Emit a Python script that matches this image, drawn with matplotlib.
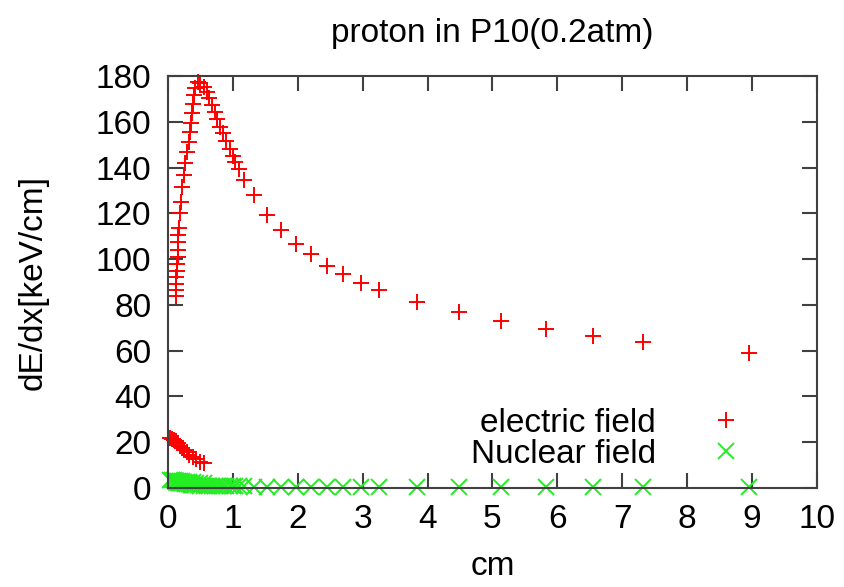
import matplotlib
matplotlib.use("Agg")
import matplotlib.pyplot as plt

plt.rcParams['font.family'] = ['Liberation Sans', 'DejaVu Sans']

# range (cm) of the tabulated points
range_cm = [
    0.03, 0.06, 0.09, 0.12, 0.15, 0.18, 0.21, 0.25, 0.29, 0.33, 0.38, 0.43, 0.49, 0.55,
    0.12, 0.12, 0.13, 0.13, 0.14, 0.14, 0.15, 0.15, 0.16, 0.16, 0.17, 0.19, 0.20, 0.22,
    0.24, 0.26, 0.29, 0.32, 0.34, 0.36, 0.37, 0.39, 0.40, 0.42, 0.46,
    0.50, 0.55, 0.60, 0.64, 0.68, 0.72, 0.76, 0.80, 0.85, 0.90, 0.95, 1.00, 1.04, 1.09,
    1.17, 1.32, 1.53, 1.74, 1.97, 2.20, 2.45, 2.70, 2.97, 3.25, 3.84, 4.48, 5.13, 5.83,
    6.55, 7.32, 8.96,
]

# electronic stopping (keV/cm)
electric = [
    22.0, 21.5, 21.0, 20.3, 19.5, 18.5, 17.5, 16.5, 15.5, 14.5, 13.5, 12.5, 11.5, 10.8,
    84.0, 86.5, 89.0, 92.0, 95.0, 98.0, 101.0, 104.0, 107.5, 110.6, 113.6, 120.0, 125.0, 131.6,
    137.0, 142.0, 147.0, 151.4, 155.8, 159.6, 164.0, 168.0, 172.0, 175.0, 177.5,
    177.0, 175.5, 173.0, 170.5, 167.5, 164.5, 161.5, 158.0, 155.0, 151.5, 148.0, 145.0, 142.5, 139.5,
    134.7, 128.0, 119.3, 112.8, 106.6, 102.2, 97.0, 93.5, 89.6, 86.5, 81.2, 76.7, 73.1, 69.5,
    66.5, 63.6, 58.8,
]

# nuclear stopping (keV/cm)
nuclear = [
    3.4, 3.3, 3.2, 3.1, 3.0, 2.9, 2.8, 2.7, 2.6, 2.5, 2.4, 2.3, 2.2, 2.1,
    2.8, 2.8, 2.7, 2.7, 2.6, 2.6, 2.5, 2.5, 2.4, 2.4, 2.3, 2.2, 2.1, 2.0,
    1.9, 1.8, 1.7, 1.6, 1.5, 1.4, 1.3, 1.3, 1.2, 1.2, 1.1,
    1.0, 0.9, 0.9, 0.9, 0.8, 0.8, 0.8, 0.7, 0.7, 0.7, 0.7, 0.6, 0.6, 0.6,
    0.6, 0.5, 0.5, 0.5, 0.4, 0.4, 0.4, 0.4, 0.3, 0.3, 0.3, 0.3, 0.2, 0.2,
    0.2, 0.2, 0.2,
]

xticks = list(range(0, 11))
yticks = list(range(0, 181, 20))

fig = plt.figure(figsize=(8.44, 5.87), dpi=100)
ax = fig.add_axes([0.199, 0.169, 0.769, 0.701])

ax.plot(range_cm, electric, linestyle='none', marker='+', markersize=12,
        markeredgewidth=1.4, color='#ff0000', label='electric field', clip_on=False)
ax.plot(range_cm, nuclear, linestyle='none', marker='x', markersize=11.5,
        markeredgewidth=1.4, color='#22ee22', label='Nuclear field', clip_on=False)

ax.set_xlim(0, 10)
ax.set_ylim(0, 180)
ax.set_xticks(xticks)
ax.set_yticks(yticks)
ax.tick_params(direction='in', length=11, width=1.5, color='#404040',
               top=True, right=True, labelsize=24)
ax.tick_params(axis='y', pad=12)
ax.tick_params(axis='x', pad=12)
for s in ax.spines.values():
    s.set_color('#404040')
    s.set_linewidth(1.5)

ax.set_title('proton in P10(0.2atm)', fontsize=24, pad=25)
ax.set_xlabel('cm', fontsize=24, labelpad=11)
ax.set_ylabel('dE/dx[keV/cm]', fontsize=24)
ax.yaxis.set_label_coords(-0.184, 0.5)

ax.legend(loc='lower right', bbox_to_anchor=(0.885, 0.043), markerfirst=False,
          frameon=False, fontsize=24, handlelength=1.0, handletextpad=1.6,
          labelspacing=0.0, borderaxespad=0.0, borderpad=0.0)

fig.savefig('out.png', dpi=100)
